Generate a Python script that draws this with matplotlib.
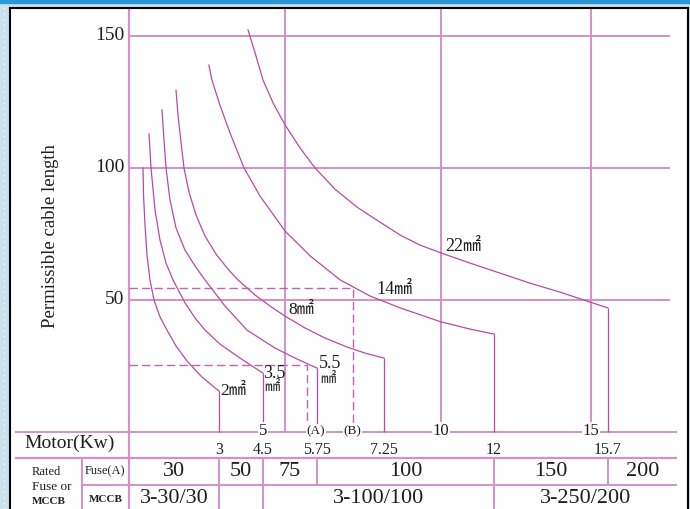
import matplotlib.pyplot as plt

# -----------------------------
# Data
# x: motor kW (linear, 0 at the length axis), y: permissible cable length
# -----------------------------
kw_2 = [0.458, 0.474, 0.523, 0.588, 0.686, 0.817, 1.013, 1.242, 1.536, 1.895, 2.386, 2.941]
len_2 = [100.0, 89.8, 78.4, 67.0, 57.6, 50.0, 43.6, 38.6, 32.6, 26.9, 20.8, 15.5]

kw_35 = [0.654, 0.719, 0.850, 1.013, 1.209, 1.438, 1.830, 2.157, 2.484, 2.974, 3.627, 4.379]
len_35 = [112.9, 100.0, 84.1, 72.7, 64.0, 57.6, 48.9, 43.2, 38.6, 33.3, 28.0, 22.3]

kw_55 = [1.078, 1.144, 1.209, 1.340, 1.536, 1.830, 2.157, 2.484, 3.137, 3.856, 4.771, 5.425, 6.144]
len_55 = [122.0, 110.6, 100.0, 87.9, 77.3, 68.9, 62.9, 57.6, 47.7, 38.6, 31.8, 28.0, 24.2]

kw_8 = [1.536, 1.601, 1.699, 1.797, 1.961, 2.190, 2.484, 2.843, 3.235, 3.562,
        4.118, 4.608, 5.098, 5.752, 6.405, 7.124, 7.712, 8.333]
len_8 = [129.5, 120.1, 109.8, 100.0, 90.9, 82.2, 74.2, 67.4, 61.7, 57.6,
         51.9, 47.7, 43.9, 39.4, 35.6, 32.2, 29.9, 28.0]

kw_14 = [2.61, 2.71, 2.97, 3.30, 3.76, 4.28, 5.10, 5.92, 6.90, 7.88, 8.86, 10.20, 11.14, 11.93]
len_14 = [139.0, 133.3, 123.9, 113.3, 100.0, 89.4, 76.1, 66.7, 57.6, 51.5, 47.0, 41.7, 39.0, 37.1]

kw_22 = [3.89, 4.12, 4.38, 4.71, 5.10, 5.59, 6.08, 6.73, 7.45, 8.20, 8.86, 9.51,
         10.20, 11.14, 12.12, 13.10, 14.08, 15.07, 15.65]
len_22 = [152.3, 143.6, 133.3, 124.6, 116.3, 107.6, 100.0, 92.0, 85.2, 79.5, 74.6, 70.8,
          67.8, 64.0, 60.2, 56.4, 53.0, 49.2, 47.0]

curves = [(kw_2, len_2), (kw_35, len_35), (kw_55, len_55),
          (kw_8, len_8), (kw_14, len_14), (kw_22, len_22)]

# y ticks
y_ticks = [50, 100, 150]

# motor axis marks
axis_marks = ["5", "(A)", "(B)", "10", "15"]
axis_mark_kw = [4.38, 6.11, 7.30, 10.2, 15.1]
grid_kw = [5.1, 10.2, 15.1]
end_labels = ["3", "4.5", "5.75", "7.25", "12", "15.7"]

# dashed reading examples (A) and (B)
dash_kw = [5.82, 7.32]
dash_len = [25.4, 54.5]

# table rows
fuse_labels = ["30", "50", "75", "100", "150", "200"]
fuse_edges = [0, 2.94, 4.38, 6.14, 11.93, 15.65, 17.9]
mccb_labels = ["3-30/30", "", "3-100/100", "3-250/200"]
mccb_edges = [0, 2.94, 4.38, 11.93, 17.9]

# -----------------------------
# Style
# -----------------------------
serif = ["Liberation Serif", "Noto Sans CJK JP"]
curve_col = "#B84AA2"
grid_col = "#D590C8"
dash_col = "#C463AE"

fig = plt.figure(figsize=(6.9, 5.09), dpi=100)
fig.patch.set_facecolor("#C9E2EE")

# blue strip along the top of the frame
fig.add_artist(plt.Rectangle((0, 1 - 3 / 509), 1, 3 / 509,
                             transform=fig.transFigure, color="#2A98D6"))
fig.add_artist(plt.Line2D([4 / 690, 4 / 690], [0, 1 - 4 / 509], transform=fig.transFigure,
                          color="white", lw=1, ls=(0, (1, 3))))

ax = fig.add_axes([10 / 690, -3 / 509, 678 / 690, 504 / 509])
ax.set_xlim(-3.889, 18.268)
ax.set_ylim(-30.3, 160.6)
ax.set_xticks([])
ax.set_yticks([])
for s in ax.spines.values():
    s.set_color("black")
    s.set_linewidth(1.5)
ax.spines["bottom"].set_visible(False)

# grid and axes lines
ax.axvline(0, color=grid_col, lw=1.6)
ax.hlines(y_ticks, 0, 17.68, color=grid_col, lw=1.4)
ax.vlines(grid_kw, 0, 165, color=grid_col, lw=1.4)
ax.hlines(0, -3.73, 17.9, color=grid_col, lw=1.4)

# curves with their drop lines
for kw, ln in curves:
    ax.plot(kw, ln, color=curve_col, lw=0.9)
    ax.vlines(kw[-1], 0, ln[-1], color=curve_col, lw=0.9)

# dashed (A) and (B)
for k, l in zip(dash_kw, dash_len):
    ax.plot([0, k, k], [l, l, 0], color=dash_col, lw=1.0, ls=(0, (6, 3)))

# curve labels
tk = dict(family=serif, color="#1E1E1E")
ax.annotate("2㎟", (kw_2[-1], len_2[-1]), xytext=(1, 0), textcoords="offset points",
            ha="left", va="center", fontsize=12.5, **tk)
ax.annotate("3.5", (kw_35[-1], len_35[-1]), xytext=(0, 0), textcoords="offset points",
            ha="left", va="center", fontsize=13, **tk)
ax.annotate("㎟", (kw_35[-1], len_35[-1]), xytext=(1, -10), textcoords="offset points",
            ha="left", va="center", fontsize=11, **tk)
ax.annotate("5.5", (kw_55[-1], len_55[-1]), xytext=(1, 3), textcoords="offset points",
            ha="left", va="center", fontsize=13, **tk)
ax.annotate("㎟", (kw_55[-1], len_55[-1]), xytext=(2, -8), textcoords="offset points",
            ha="left", va="center", fontsize=11, **tk)
ax.text(5.2, 46.2, "8㎟", ha="left", va="center", fontsize=12.5, **tk)
ax.text(8.1, 53.8, "14㎟", ha="left", va="center", fontsize=13, **tk)
ax.text(10.35, 70.4, "22㎟", ha="left", va="center", fontsize=13, **tk)

# y tick labels and title
for v in y_ticks:
    ax.text(-0.16, v, str(v), ha="right", va="center", fontsize=14, **tk)
ax.text(-2.58, 74.2, "Permissible cable length", rotation=90, ha="center",
        va="center", fontsize=13.5, **tk)

# motor axis labels
for lab, k in zip(axis_marks, axis_mark_kw):
    fs = 9.5 if lab.startswith("(") else 12
    ax.text(k, 0.3, lab, ha="center", va="center", fontsize=fs,
            bbox=dict(fc="white", ec="none", pad=0.6), **tk)
ends = [c[0][-1] for c in curves]
for lab, k in zip(end_labels, ends):
    ax.text(k, -6.9, lab, ha="center", va="center", fontsize=11.5, **tk)
ax.text(-1.93, -4.2, "Motor(Kw)", ha="center", va="center", fontsize=14, **tk)

# table
ax.hlines(-9.85, -3.73, 17.9, color=grid_col, lw=1.6)
ax.hlines(-20.1, -1.54, 17.9, color=grid_col, lw=1.4)
ax.vlines(-1.54, -31, -9.85, color=grid_col, lw=1.4)
ax.vlines(fuse_edges[1:-1], -20.1, -9.85, color=grid_col, lw=1.4)
ax.vlines(mccb_edges[1:-1], -31, -20.1, color=grid_col, lw=1.4)

for i, lab in enumerate(fuse_labels):
    c = (fuse_edges[i] + fuse_edges[i + 1]) / 2
    ax.text(c, -14.8, lab, ha="center", va="center", fontsize=16, **tk)
for i, lab in enumerate(mccb_labels):
    c = (mccb_edges[i] + mccb_edges[i + 1]) / 2
    ax.text(c, -25.0, lab, ha="center", va="center", fontsize=16, **tk)

ax.text(-3.17, -15.2, "Rated", ha="left", va="center", fontsize=9, **tk)
ax.text(-3.17, -20.9, "Fuse or", ha="left", va="center", fontsize=9.5, **tk)
ax.text(-3.17, -26.5, "MCCB", ha="left", va="center", fontsize=8,
        fontweight="bold", **tk)
ax.text(-0.78, -14.8, "Fuse(A)", ha="center", va="center", fontsize=9, **tk)
ax.text(-0.75, -25.4, "MCCB", ha="center", va="center", fontsize=8,
        fontweight="bold", **tk)

plt.savefig("out.png", dpi=100)
